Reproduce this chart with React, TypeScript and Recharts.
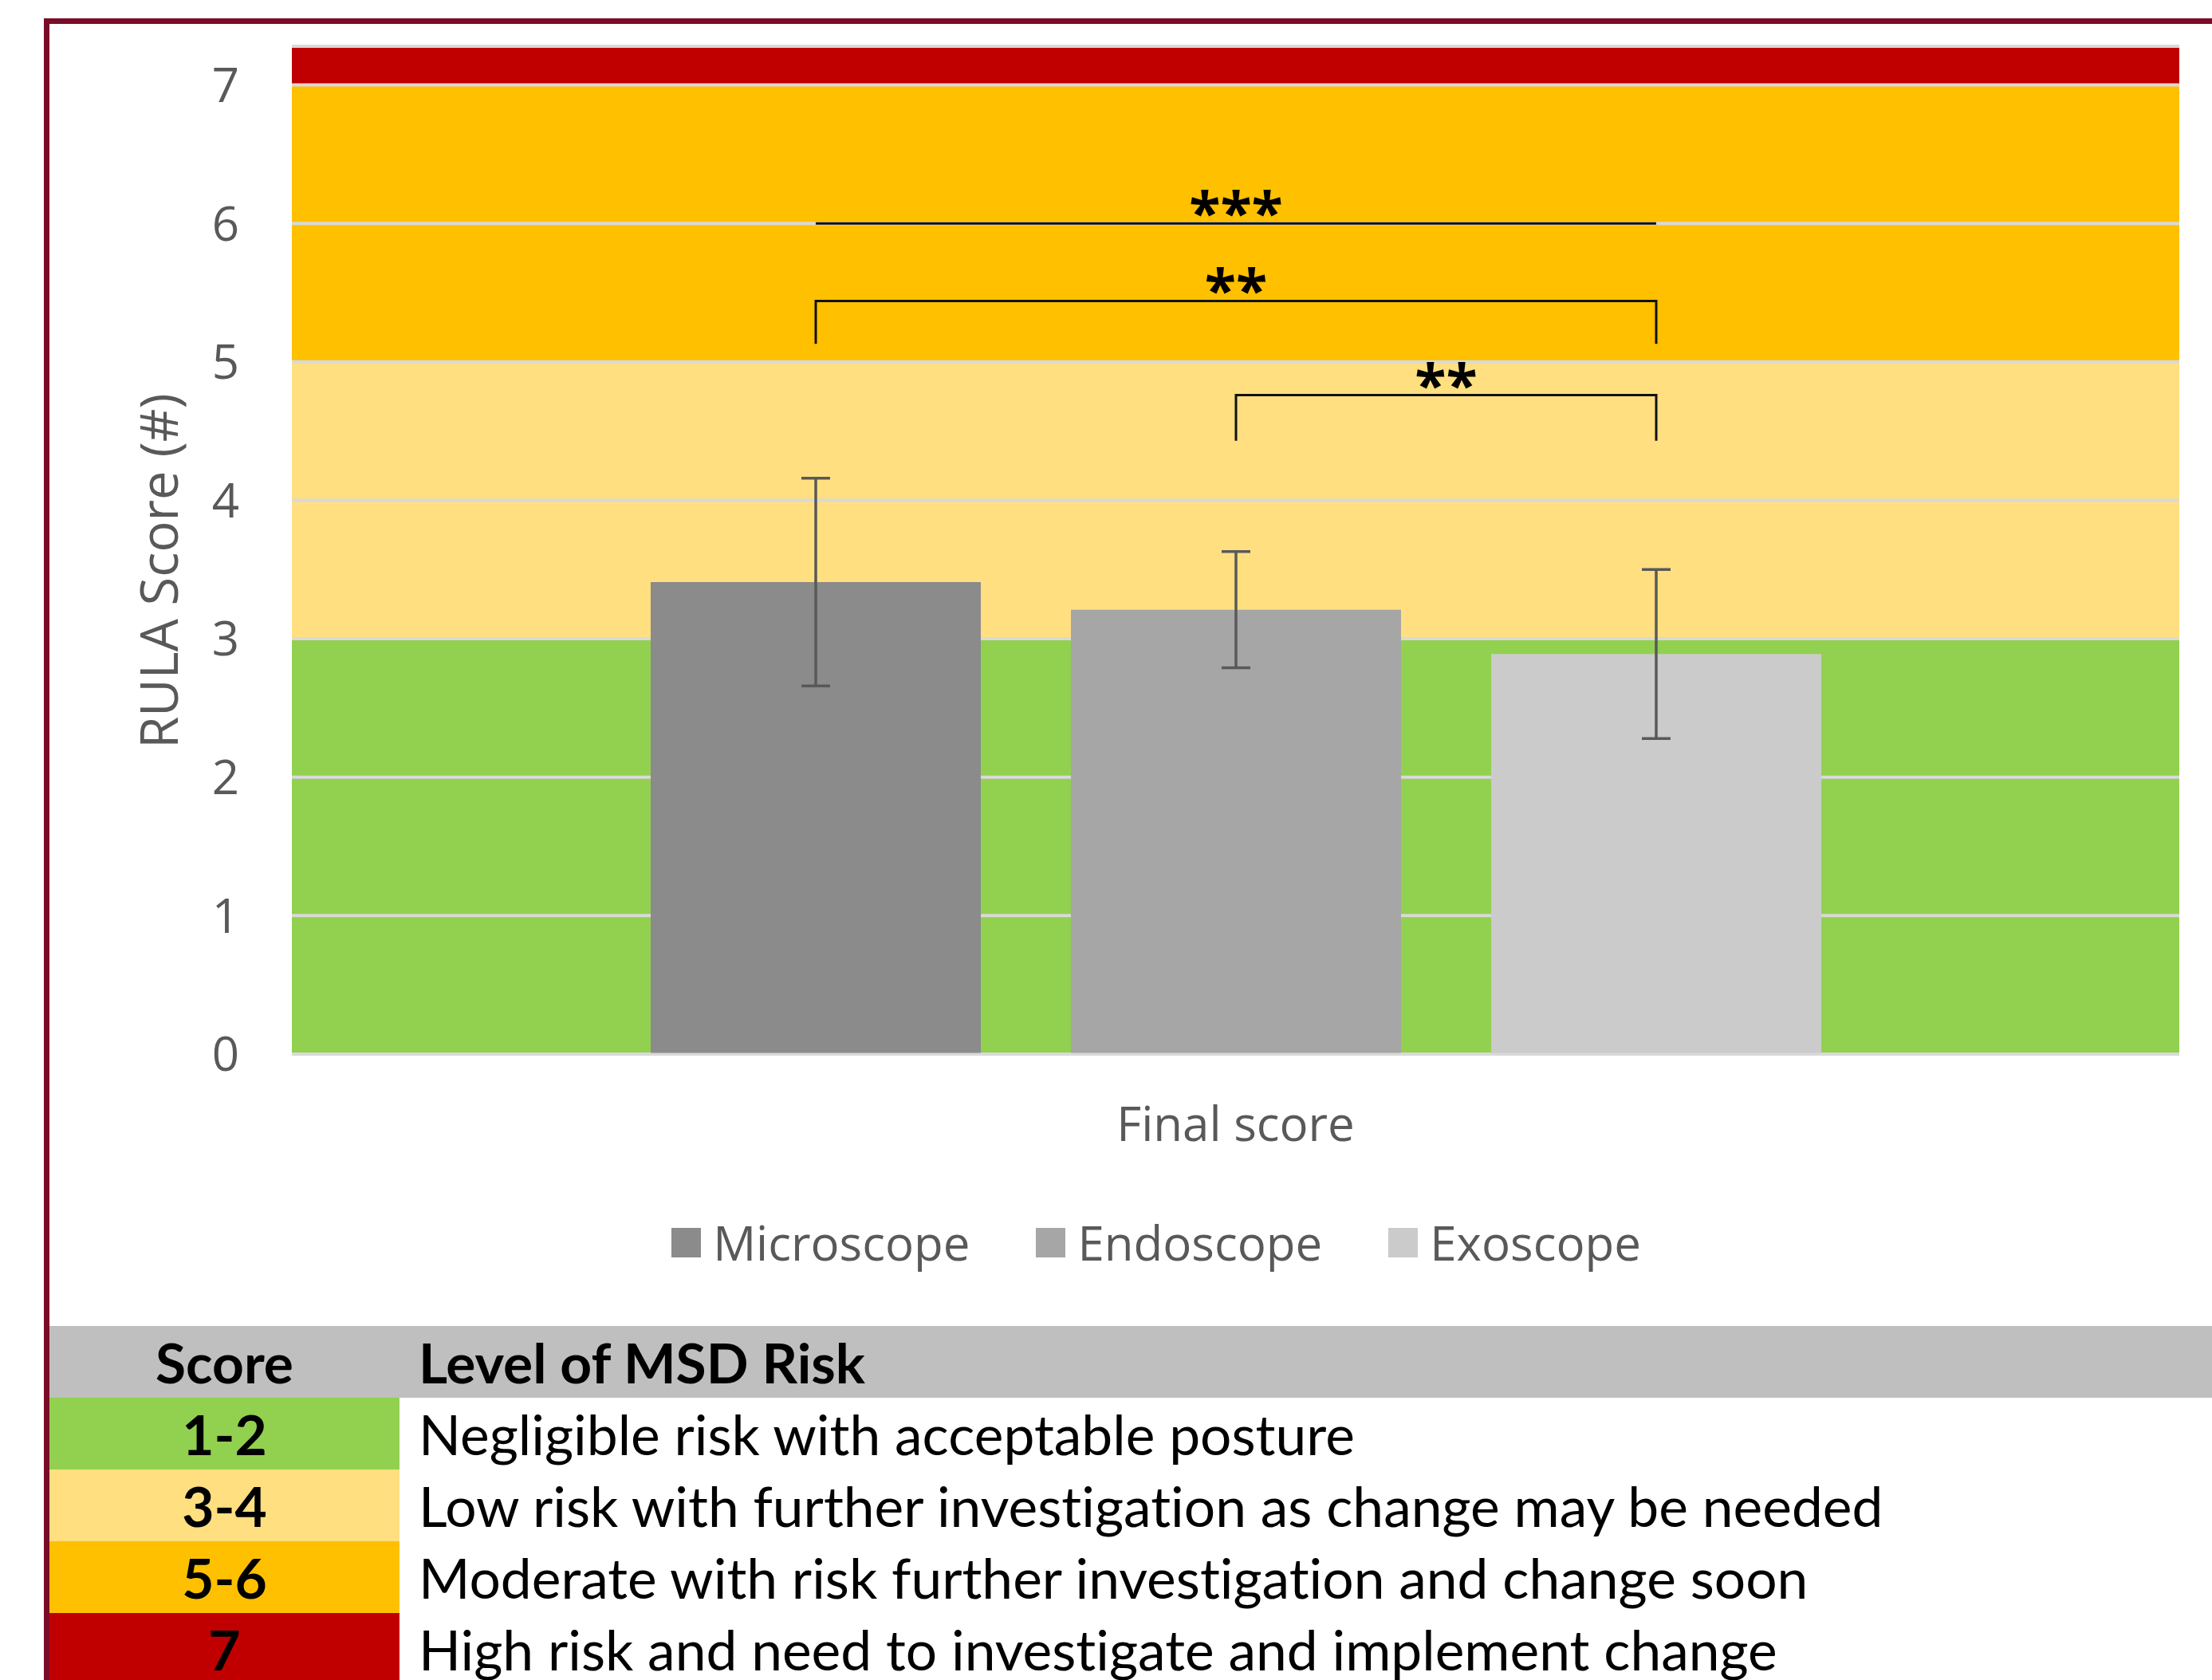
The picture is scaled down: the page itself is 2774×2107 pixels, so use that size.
import React from "react";
import {
  BarChart,
  Bar,
  XAxis,
  YAxis,
  CartesianGrid,
  ReferenceArea,
  ErrorBar,
  Legend,
  Rectangle,
} from "recharts";

// ---------------------------------------------------------------------------
// Data
// ---------------------------------------------------------------------------

const CATEGORIES = ["Final score"];
const SERIES = ["Microscope", "Endoscope", "Exoscope"];
const MEANS = [3.41, 3.21, 2.89];
const SDS = [0.75, 0.42, 0.61];
const SERIES_COLORS = ["#8b8b8b", "#a6a6a6", "#cbcbcb"];

const Y_TICKS = [0, 1, 2, 3, 4, 5, 6, 7];
const Y_MAX = 7.28;

// RULA risk bands behind the bars
const BAND_FROM = [0, 3, 5, 7];
const BAND_TO = [3, 5, 7, Y_MAX];
const BAND_COLORS = ["#92d050", "#ffdf80", "#ffc000", "#c00000"];

// significance brackets, series index from/to, heights in score units
const BRACKET_FROM = [0, 0, 1];
const BRACKET_TO = [2, 2, 2];
const BRACKET_TOP = [6.0, 5.44, 4.76];
const BRACKET_FOOT = [6.0, 5.13, 4.43];
const BRACKET_MARKS = ["***", "**", "**"];

const RISK_SCORES = ["1-2", "3-4", "5-6", "7"];
const RISK_LEVELS = [
  "Negligible risk with acceptable posture",
  "Low risk with further investigation as change may be needed",
  "Moderate with risk further investigation and change soon",
  "High risk and need to investigate and implement change",
];

// ---------------------------------------------------------------------------
// Layout
// ---------------------------------------------------------------------------

const PAGE_W = 2774;
const PAGE_H = 2107;
const BAR_SIZE = 414;
const BAR_GAP = 113;
const AXIS_GREY = "#595959";
const GRID_GREY = "#d9d9d9";
const CHART_FONT = "'Open Sans', 'Noto Sans', sans-serif";
const TABLE_FONT = "Lato, 'Open Sans', sans-serif";

const chartData = CATEGORIES.map((name) => {
  const row: Record<string, string | number> = { name };
  SERIES.forEach((s, i) => {
    row[s] = MEANS[i];
    row[`${s}Err`] = SDS[i];
  });
  return row;
});

// ---------------------------------------------------------------------------
// Pieces
// ---------------------------------------------------------------------------

// eslint-disable-next-line @typescript-eslint/no-explicit-any
function YAxisTitle({ viewBox }: Record<string, any>) {
  const vb = viewBox || { x: 0, y: 58, width: 366, height: 1264 };
  const cx = vb.x + 223;
  const cy = vb.y + vb.height / 2 + 26;
  return (
    <text
      x={cx}
      y={cy}
      transform={`rotate(-90 ${cx} ${cy})`}
      textAnchor="middle"
      fill={AXIS_GREY}
      fontFamily={CHART_FONT}
      fontSize={65}
    >
      RULA Score (#)
    </text>
  );
}

// Last bar of the group; also draws the significance brackets, using its own
// geometry to recover the y scale and the centres of the sibling bars.
// eslint-disable-next-line @typescript-eslint/no-explicit-any
function BarWithBrackets(props: Record<string, any>) {
  const { x, y, width, height, fill, payload } = props;
  const value = Number(payload[SERIES[SERIES.length - 1]]);
  const base = y + height;
  const perUnit = height / value;
  const toY = (v: number) => base - v * perUnit;
  const centre = (i: number) =>
    x + width / 2 - (SERIES.length - 1 - i) * (width + BAR_GAP);

  return (
    <g>
      <Rectangle x={x} y={y} width={width} height={height} fill={fill} />
      {BRACKET_MARKS.map((mark, i) => {
        const x1 = centre(BRACKET_FROM[i]);
        const x2 = centre(BRACKET_TO[i]);
        const top = toY(BRACKET_TOP[i]);
        const foot = toY(BRACKET_FOOT[i]);
        return (
          <g key={i}>
            <path
              d={`M${x1},${foot}L${x1},${top}L${x2},${top}L${x2},${foot}`}
              fill="none"
              stroke="#111"
              strokeWidth={3}
            />
            <text
              x={(x1 + x2) / 2}
              y={top + 13}
              textAnchor="middle"
              fontFamily={CHART_FONT}
              fontWeight={700}
              fontSize={72}
              fill="#000"
            >
              {mark}
            </text>
          </g>
        );
      })}
    </g>
  );
}

// eslint-disable-next-line @typescript-eslint/no-explicit-any
function LegendRow({ payload }: Record<string, any>) {
  const items = [...(payload || [])].sort(
    (a: { value: string }, b: { value: string }) =>
      SERIES.indexOf(a.value) - SERIES.indexOf(b.value)
  );
  return (
    <div
      style={{
        display: "flex",
        justifyContent: "center",
        alignItems: "center",
        gap: 83,
        height: 80,
        fontFamily: CHART_FONT,
        fontSize: 60,
        lineHeight: "80px",
        color: AXIS_GREY,
      }}
    >
      {items.map((p: { value: string; color: string }) => (
        <div key={p.value} style={{ display: "flex", alignItems: "center" }}>
          <span
            style={{
              display: "inline-block",
              width: 37,
              height: 37,
              background: p.color,
              marginRight: 15,
            }}
          />
          <span>{p.value}</span>
        </div>
      ))}
    </div>
  );
}

function RiskTable() {
  const cell: React.CSSProperties = {
    display: "flex",
    alignItems: "center",
    height: 90,
  };
  return (
    <div
      style={{
        position: "absolute",
        left: 62,
        top: 1663,
        width: PAGE_W - 62,
        fontFamily: TABLE_FONT,
        fontSize: 69.5,
        fontVariantLigatures: "none",
        color: "#000",
      }}
    >
      <div style={{ ...cell, background: "#bfbfbf", fontWeight: 700 }}>
        <div style={{ width: 439, textAlign: "center" }}>Score</div>
        <div style={{ paddingLeft: 24 }}>Level of MSD Risk</div>
      </div>
      {RISK_SCORES.map((score, i) => (
        <div key={score} style={{ ...cell, background: "#fff" }}>
          <div
            style={{
              ...cell,
              width: 439,
              justifyContent: "center",
              background: BAND_COLORS[i],
              fontWeight: 700,
            }}
          >
            {score}
          </div>
          <div style={{ paddingLeft: 24 }}>{RISK_LEVELS[i]}</div>
        </div>
      ))}
    </div>
  );
}

// ---------------------------------------------------------------------------
// App
// ---------------------------------------------------------------------------

export default function App() {
  return (
    <div
      style={{
        position: "absolute",
        left: 0,
        top: 0,
        width: PAGE_W,
        height: PAGE_H,
        overflow: "hidden",
        background: "#fff",
      }}
    >
      {/* maroon frame, open past the right and bottom edges */}
      <div
        style={{
          position: "absolute",
          left: 55,
          top: 23,
          width: 3000,
          height: 3000,
          border: "7px solid #7a0c28",
          boxSizing: "border-box",
        }}
      />

      <div style={{ position: "absolute", left: 0, top: 0 }}>
        <BarChart
          width={PAGE_W}
          height={1640}
          data={chartData}
          margin={{ top: 58, right: 41, bottom: 198, left: 0 }}
          barGap={BAR_GAP}
        >
          {BAND_COLORS.map((c, i) => (
            <ReferenceArea
              key={c}
              y1={BAND_FROM[i]}
              y2={BAND_TO[i]}
              fill={c}
              fillOpacity={1}
              stroke="none"
              ifOverflow="visible"
              zIndex={100}
            />
          ))}
          <CartesianGrid
            vertical={false}
            stroke={GRID_GREY}
            strokeWidth={4}
            zIndex={150}
          />
          <XAxis
            dataKey="name"
            height={120}
            tickLine={false}
            tickSize={0}
            tickMargin={66}
            axisLine={{ stroke: GRID_GREY, strokeWidth: 3 }}
            tick={{ fill: AXIS_GREY, fontSize: 60, fontFamily: CHART_FONT }}
          />
          <YAxis
            width={366}
            domain={[0, Y_MAX]}
            ticks={Y_TICKS}
            axisLine={false}
            tickLine={false}
            tickSize={0}
            tickMargin={66}
            tick={{ fill: AXIS_GREY, fontSize: 60, fontFamily: CHART_FONT }}
            label={<YAxisTitle />}
          />
          <Legend
            layout="horizontal"
            verticalAlign="middle"
            align="center"
            wrapperStyle={{ top: 1518, left: 0, width: 2900 }}
            content={<LegendRow />}
          />
          {SERIES.map((s, i) => (
            <Bar
              key={s}
              dataKey={s}
              fill={SERIES_COLORS[i]}
              barSize={BAR_SIZE}
              isAnimationActive={false}
              shape={i === SERIES.length - 1 ? <BarWithBrackets /> : undefined}
            >
              <ErrorBar
                dataKey={`${s}Err`}
                direction="y"
                width={18}
                stroke={AXIS_GREY}
                strokeWidth={3.5}
                isAnimationActive={false}
              />
            </Bar>
          ))}
        </BarChart>
      </div>

      <RiskTable />
    </div>
  );
}
